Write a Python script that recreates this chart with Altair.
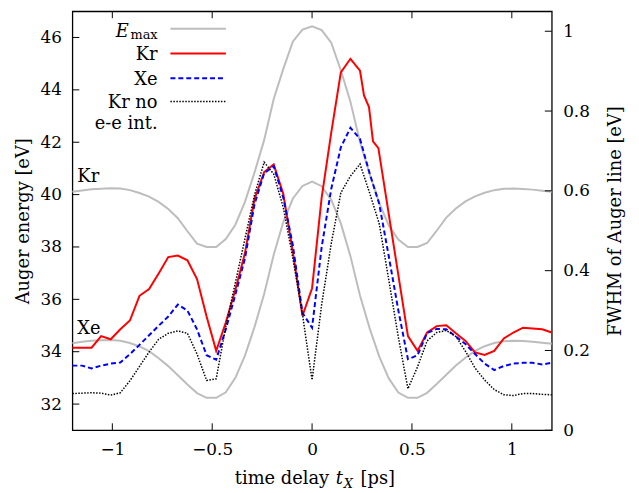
import altair as alt
import pandas as pd

# ---- data ----
T = [-1.2, -1.152, -1.104, -1.056, -1.008, -0.96, -0.912, -0.864, -0.816, -0.768,
     -0.72, -0.672, -0.624, -0.576, -0.528, -0.48, -0.432, -0.384, -0.336, -0.288,
     -0.24, -0.192, -0.144, -0.096, -0.048, 0.0, 0.048, 0.096, 0.144, 0.192,
     0.24, 0.288, 0.336, 0.384, 0.432, 0.48, 0.528, 0.576, 0.624, 0.672,
     0.72, 0.768, 0.816, 0.864, 0.912, 0.96, 1.008, 1.056, 1.104, 1.152, 1.2]

EMAX_KR = [40.11, 40.16, 40.20, 40.22, 40.24, 40.23, 40.17, 40.06, 39.92, 39.72,
           39.45, 39.10, 38.60, 38.13, 38.00, 38.00, 38.30, 38.85, 39.72, 40.85,
           42.08, 43.65, 44.80, 45.85, 46.30, 46.43, 46.28, 45.80, 44.75, 43.55,
           42.00, 40.80, 39.68, 38.82, 38.28, 38.00, 38.00, 38.15, 38.62, 39.12,
           39.47, 39.74, 39.93, 40.07, 40.17, 40.22, 40.23, 40.21, 40.19, 40.15, 40.11]

EMAX_XE = [34.32, 34.38, 34.42, 34.44, 34.45, 34.42, 34.33, 34.20, 34.02, 33.75,
           33.45, 33.10, 32.75, 32.42, 32.24, 32.24, 32.45, 33.00, 33.85, 34.95,
           36.20, 37.70, 38.95, 39.85, 40.33, 40.50, 40.32, 39.80, 38.90, 37.65,
           36.15, 34.90, 33.82, 32.98, 32.44, 32.24, 32.24, 32.43, 32.77, 33.12,
           33.47, 33.77, 34.03, 34.21, 34.33, 34.40, 34.42, 34.41, 34.38, 34.34, 34.30]

KR_T = [-1.2, -1.152, -1.104, -1.056, -1.008, -0.96, -0.912, -0.864, -0.816, -0.768,
        -0.72, -0.672, -0.624, -0.576, -0.528, -0.48, -0.432, -0.384, -0.336, -0.288,
        -0.24, -0.192, -0.144, -0.096, -0.048, 0.0, 0.048, 0.096, 0.144, 0.192,
        0.24, 0.26, 0.285, 0.305, 0.332, 0.48, 0.528, 0.576, 0.624, 0.672,
        0.72, 0.768, 0.816, 0.864, 0.912, 0.96, 1.008, 1.056, 1.104, 1.152, 1.2]
KR_FWHM = [0.207, 0.207, 0.207, 0.236, 0.228, 0.253, 0.275, 0.337, 0.354, 0.393,
           0.434, 0.438, 0.426, 0.379, 0.285, 0.199, 0.270, 0.352, 0.444, 0.580,
           0.647, 0.666, 0.592, 0.446, 0.287, 0.356, 0.583, 0.746, 0.897, 0.931,
           0.901, 0.839, 0.810, 0.724, 0.707, 0.236, 0.199, 0.245, 0.261, 0.263,
           0.243, 0.224, 0.195, 0.189, 0.199, 0.230, 0.245, 0.257, 0.255, 0.253, 0.245]

XE_FWHM = [0.162, 0.162, 0.155, 0.162, 0.167, 0.170, 0.191, 0.214, 0.238, 0.262,
           0.285, 0.315, 0.300, 0.253, 0.188, 0.177, 0.253, 0.340, 0.431, 0.567,
           0.644, 0.662, 0.583, 0.463, 0.294, 0.257, 0.459, 0.605, 0.709, 0.758,
           0.730, 0.644, 0.568, 0.436, 0.300, 0.178, 0.188, 0.244, 0.254, 0.253,
           0.235, 0.216, 0.191, 0.167, 0.151, 0.161, 0.167, 0.169, 0.169, 0.165, 0.169]

KRNO_FWHM = [0.092, 0.093, 0.094, 0.093, 0.088, 0.094, 0.124, 0.160, 0.196, 0.228,
             0.243, 0.249, 0.243, 0.191, 0.125, 0.129, 0.260, 0.370, 0.480, 0.590,
             0.672, 0.642, 0.558, 0.431, 0.290, 0.126, 0.315, 0.468, 0.595, 0.637,
             0.667, 0.595, 0.518, 0.377, 0.233, 0.104, 0.159, 0.224, 0.245, 0.250,
             0.235, 0.198, 0.156, 0.126, 0.102, 0.089, 0.087, 0.092, 0.092, 0.090, 0.089]

X_TICKS = [-1, -0.5, 0, 0.5, 1]
E_TICKS = [32, 34, 36, 38, 40, 42, 44, 46]
F_TICKS = [0, 0.2, 0.4, 0.6, 0.8, 1]

FONT = "DejaVu Serif"
W, H = 484, 423

xscale = alt.Scale(domain=[-1.2, 1.2], nice=False, zero=False)
escale = alt.Scale(domain=[31, 47], nice=False, zero=False)
fscale = alt.Scale(domain=[0, 1.05], nice=False, zero=False)

gray_df = pd.DataFrame({
    "t": T + T,
    "E": EMAX_KR + EMAX_XE,
    "s": ["Kr"] * len(T) + ["Xe"] * len(T),
})
kr_df = pd.DataFrame({"t": KR_T, "f": KR_FWHM})
xe_df = pd.DataFrame({"t": T, "f": XE_FWHM})
krno_df = pd.DataFrame({"t": T, "f": KRNO_FWHM})
one = pd.DataFrame({"a": [0]})

axis_common = dict(ticks=False, domain=False, grid=False, labelPadding=11,
                   labelFont=FONT, titleFont=FONT, labelFontSize=17,
                   titleFontSize=18, labelColor="black", titleColor="black",
                   titleFontWeight="normal")

xaxis = alt.Axis(values=X_TICKS, format="~g", title="", **axis_common)


def X(field):
    return alt.X(field, type="quantitative", scale=xscale, axis=xaxis)


gray = alt.Chart(gray_df).mark_line(color="#bdbdbd", strokeWidth=2).encode(
    x=X("t"),
    y=alt.Y("E:Q", scale=escale,
            axis=alt.Axis(values=E_TICKS, format="d", title="Auger energy [eV]",
                          titlePadding=8, **axis_common)),
    detail="s:N",
)

kr = alt.Chart(kr_df).mark_line(color="#ff0000", strokeWidth=2).encode(
    x=X("t"),
    y=alt.Y("f:Q", scale=fscale,
            axis=alt.Axis(orient="right", values=F_TICKS, format="~g",
                          title="FWHM of Auger line [eV]",
                          titleAngle=270, titleBaseline="top", titlePadding=17,
                          **axis_common)),
)


def fline(df, **kw):
    return alt.Chart(df).mark_line(**kw).encode(
        x=X("t"),
        y=alt.Y("f:Q", scale=fscale, axis=None),
    )


xe = fline(xe_df, color="#0000ff", strokeWidth=2, strokeDash=[5, 3])
krno = fline(krno_df, color="black", strokeWidth=1.5, strokeDash=[1.5, 1.5])

lticks = alt.Chart(pd.DataFrame({"v": E_TICKS})).mark_rule(color="black", strokeWidth=1).encode(
    y=alt.Y("v:Q", scale=escale, axis=None),
    x=alt.value(0), x2=alt.value(7),
)
rticks = alt.Chart(pd.DataFrame({"v": F_TICKS})).mark_rule(color="black", strokeWidth=1).encode(
    y=alt.Y("v:Q", scale=fscale, axis=None),
    x=alt.value(W - 7), x2=alt.value(W),
)
xt_df = pd.DataFrame({"t": X_TICKS})
bticks = alt.Chart(xt_df).mark_rule(color="black", strokeWidth=1).encode(
    x=X("t"), y=alt.value(H), y2=alt.value(H - 7))
tticks = alt.Chart(xt_df).mark_rule(color="black", strokeWidth=1).encode(
    x=X("t"), y=alt.value(0), y2=alt.value(7))


def txt(s, x, y, size=18, align="left", baseline="alphabetic", style="normal"):
    return alt.Chart(one).mark_text(text=s, font=FONT, fontSize=size, align=align,
                                    baseline=baseline, fontStyle=style,
                                    color="black").encode(x=alt.value(x), y=alt.value(y))


def sample(y, **kw):
    return alt.Chart(one).mark_rule(**kw).encode(
        x=alt.value(99), x2=alt.value(155), y=alt.value(y))


legend = [
    txt("E", 57, 26, style="italic", align="right"),
    txt("max", 86, 28, size=13, align="right"),
    txt("Kr", 86, 49, align="right"),
    txt("Xe", 86, 74, align="right"),
    txt("Kr no", 86, 98, align="right"),
    txt("e-e int.", 86, 119, align="right"),
    sample(17.7, color="#bdbdbd", strokeWidth=2),
    sample(42.7, color="#ff0000", strokeWidth=2),
    sample(67.7, color="#0000ff", strokeWidth=2, strokeDash=[5, 3]),
    sample(91, color="black", strokeWidth=1.5, strokeDash=[1.5, 1.5]),
    txt("Kr", 5, 167.7, baseline="middle"),
    txt("Xe", 5, 321, baseline="middle"),
    # x-axis title: time delay t_X [ps]
    txt("time delay", 164, 477),
    txt("t", 266, 477, style="italic"),
    txt("X", 274, 481, size=13, style="italic"),
    txt("[ps]", 291, 477),
]

chart = alt.layer(gray, kr, xe, krno, lticks, rticks, bticks, tticks, *legend).resolve_scale(
    y="independent"
).properties(
    width=W, height=H,
    padding={"left": 65, "top": 1, "right": 80, "bottom": 60},
    autosize=alt.AutoSizeParams(type="none"),
).configure_view(
    stroke="black", strokeWidth=1.3
)

chart.save("out.html", embed_options={"renderer": "svg", "actions": False})
